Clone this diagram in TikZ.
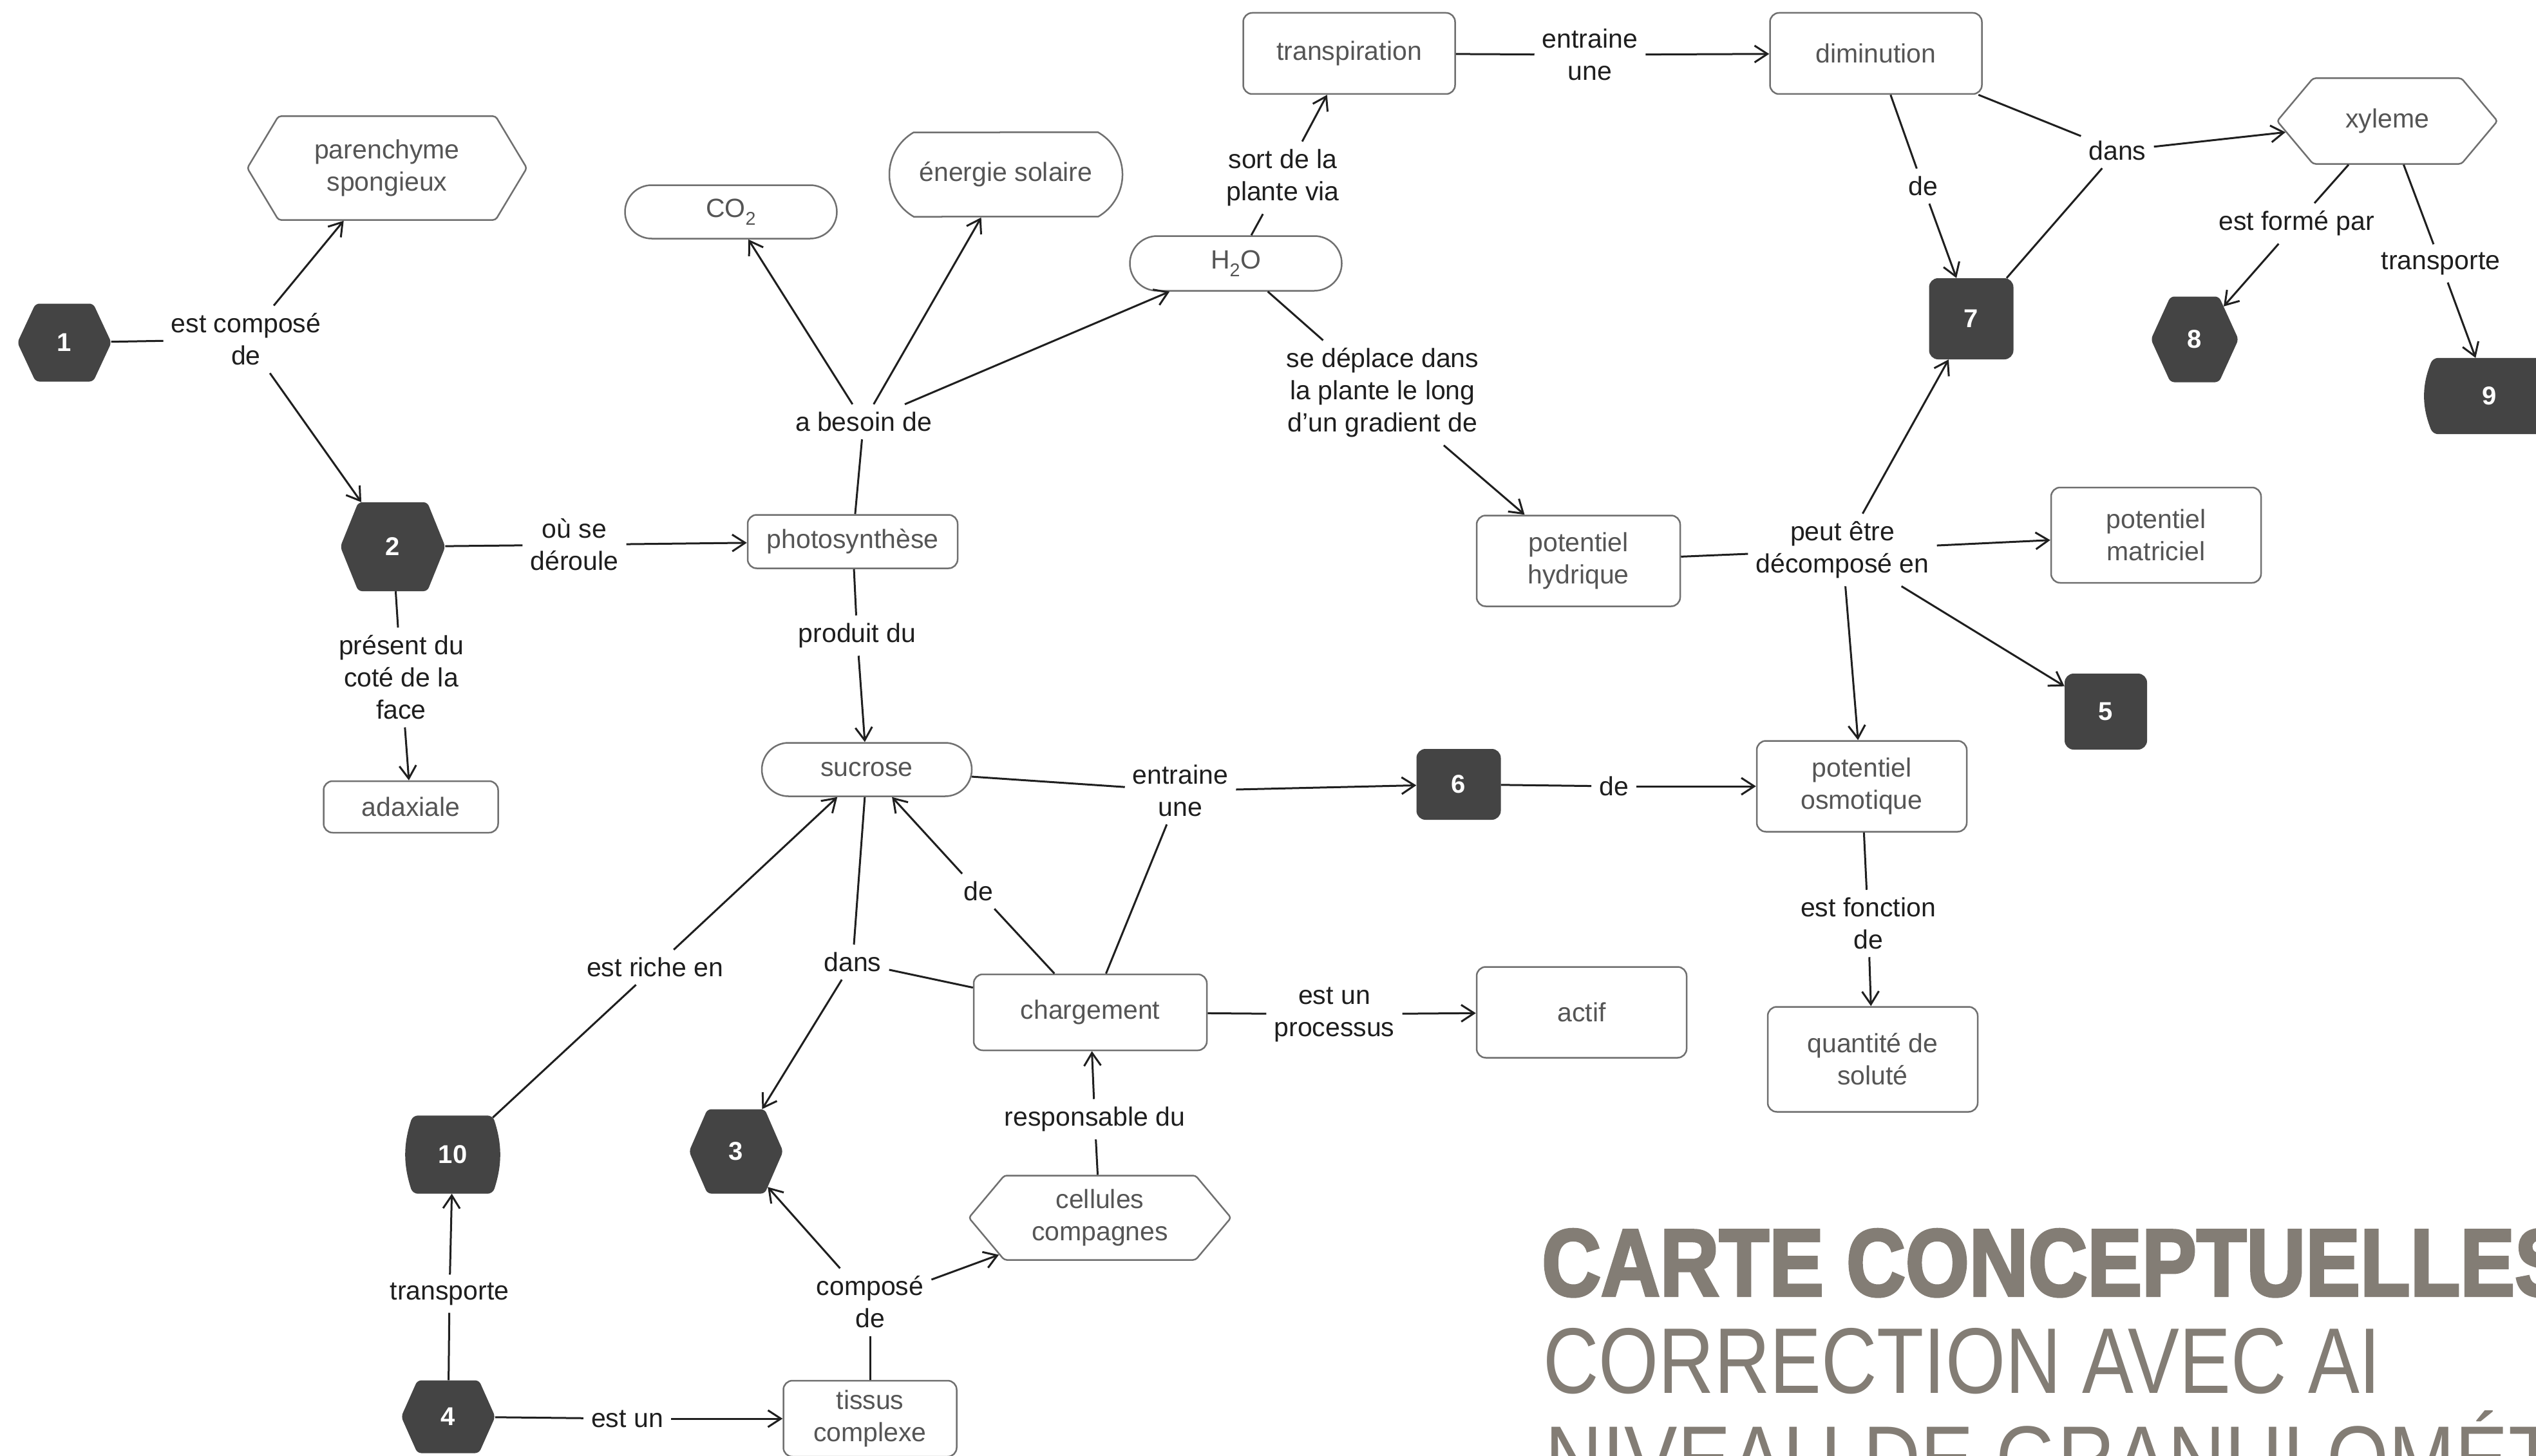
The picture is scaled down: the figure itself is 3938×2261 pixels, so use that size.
\documentclass[tikz,border=0pt]{standalone}
\usepackage{graphicx}
\usepackage{fontspec}
\setmainfont{Liberation Sans}
\newfontfamily\titlefont{Liberation Sans}[BoldFeatures={FakeBold=3}]
\usetikzlibrary{arrows.meta,shapes.misc,shapes.symbols}
\definecolor{dark}{HTML}{444444}
\definecolor{bord}{HTML}{707070}
\definecolor{ntext}{HTML}{555555}
\definecolor{ltext}{HTML}{1E1E1E}
\definecolor{titlec}{RGB}{131,125,117}
\begin{document}
\begin{tikzpicture}[x=1pt,y=-1pt,
  base/.style={font=\fontsize{41pt}{50pt}\selectfont, align=center, inner sep=0pt},
  box/.style={base, draw=bord, line width=2.5pt, rounded corners=14pt, text=ntext},
  pill/.style={base, draw=bord, line width=2.5pt, rounded rectangle, text=ntext},
  hexw/.style={base, draw=bord, line width=2.5pt, signal, signal to=east and west, text=ntext, rounded corners=4pt},
  darkfont/.style={font=\fontsize{40pt}{48pt}\selectfont\bfseries, text=white},
  hexd/.style={base, fill=dark, signal, signal to=east and west, darkfont, rounded corners=6pt},
  sqd/.style={base, fill=dark, rounded corners=14pt, darkfont},
  barrel/.style={base, rectangle, draw=none},
  lab/.style={base, text=ltext, inner sep=12pt},
  ln/.style={line width=3pt, draw=black!88},
  ar/.style={ln, -{Straight Barb[length=20pt,width=26pt]}}
]
\useasboundingbox (0,0) rectangle (3938,2261);
\clip (0,0) rectangle (3938,2261);
\fill[white] (0,0) rectangle (3938,2261);

% concept nodes
\node[hexd, minimum width=146, minimum height=121, signal pointer angle=130] (n1) at (100,532) {1};
\node[hexw, minimum width=434, minimum height=161, signal pointer angle=118] (paren) at (601,261) {parenchyme\\spongieux};
\node[hexd, minimum width=163, minimum height=138, signal pointer angle=136] (n2) at (610,849) {2};
\node[box, minimum width=326, minimum height=83] (photo) at (1324,841) {photosynthèse};
\node[box, minimum width=271, minimum height=80] (adax) at (638,1253) {adaxiale};
\node[pill, minimum width=329, minimum height=83] (co2) at (1135,329) {CO\textsubscript{2}};
\node[pill, rounded rectangle arc length=120, minimum width=362, minimum height=131] (energ) at (1562,271) {énergie solaire};
\node[pill, minimum width=329, minimum height=85] (h2o) at (1919,409) {H\textsubscript{2}O};
\node[box, minimum width=329, minimum height=126] (transp) at (2095,83) {transpiration};
\node[box, minimum width=329, minimum height=126] (dimin) at (2913,83) {diminution};
\node[hexw, minimum width=342, minimum height=133, signal pointer angle=100] (xyl) at (3707,188) {xyleme};
\node[sqd, minimum width=131, minimum height=126] (n7) at (3061,495) {7};
\node[hexd, minimum width=136, minimum height=133, signal pointer angle=131] (n8) at (3408,527) {8};
% node 9: barrel shape, left side curved
\node[barrel, minimum width=176, minimum height=118] (n9) at (3866,615) {};
\fill[dark, rounded corners=8pt] (n9.north west) to[bend right=22] (n9.south west) -- (n9.south east) -- (n9.north east) -- cycle;
\node[base, darkfont] (n9t) at (n9.center) {9};
\node[box, minimum width=316, minimum height=141] (phyd) at (2451,871) {potentiel\\hydrique};
\node[box, minimum width=326, minimum height=148] (pmat) at (3348,831) {potentiel\\matriciel};
\node[sqd, minimum width=128, minimum height=118] (n5) at (3270,1105) {5};
\node[pill, minimum width=326, minimum height=83] (sucr) at (1346,1195) {sucrose};
\node[sqd, minimum width=131, minimum height=110] (n6) at (2265,1218) {6};
\node[box, minimum width=326, minimum height=141] (posm) at (2891,1221) {potentiel\\osmotique};
\node[box, minimum width=362, minimum height=118] (charg) at (1693,1572) {chargement};
\node[box, minimum width=326, minimum height=141] (actif) at (2456,1572) {actif};
\node[box, minimum width=326, minimum height=163] (quant) at (2908,1645) {quantité de\\soluté};
% node 10: barrel shape
\node[barrel, minimum width=124, minimum height=121] (n10) at (703,1793) {};
\fill[dark, rounded corners=8pt] (n10.north west) to[bend right=18] (n10.south west) -- (n10.south east) to[bend right=18] (n10.north east) -- cycle;
\node[base, darkfont] (n10t) at (n10.center) {10};
\node[hexd, minimum width=146, minimum height=131, signal pointer angle=133] (n3) at (1143,1788) {3};
\node[hexw, minimum width=407, minimum height=131, signal pointer angle=100] (cell) at (1708,1891) {cellules\\compagnes};
\node[hexd, minimum width=146, minimum height=113, signal pointer angle=132] (n4) at (696,2200) {4};
\node[box, minimum width=269, minimum height=118] (tissu) at (1351,2203) {tissus\\complexe};

% link labels
\node[lab] (l1) at (382,527) {est composé\\de};
\node[lab] (l2) at (892,846) {où se\\déroule};
\node[lab] (l3) at (623,1052) {présent du\\coté de la\\face};
\node[lab] (l4) at (1341,655) {a besoin de};
\node[lab] (l5) at (1331,987) {produit du};
\node[lab] (l6) at (1992,276) {sort de la\\plante via};
\node[lab] (l7) at (2469,85) {entraine\\une};
\node[lab] (l8) at (2147,610) {se déplace dans\\la plante le long\\d’un gradient de};
\node[lab] (l9) at (3288,234) {dans};
\node[lab] (l10) at (2986,289) {de};
\node[lab] (l11) at (3566,347) {est formé par};
\node[lab] (l12) at (3790,409) {transporte};
\node[lab] (l13) at (2861,854) {peut être\\décomposé en};
\node[lab] (l14) at (1833,1228) {entraine\\une};
\node[lab] (l15) at (2506,1221) {de};
\node[lab] (l16) at (1519,1384) {de};
\node[lab] (l17) at (1324,1494) {dans};
\node[lab] (l18) at (1017,1502) {est riche en};
\node[lab] (l19) at (2072,1575) {est un\\processus};
\node[lab] (l20) at (2901,1434) {est fonction\\de};
\node[lab] (l21) at (1700,1738) {responsable du};
\node[lab] (l22) at (1351,2022) {composé\\de};
\node[lab] (l23) at (698,2009) {transporte};
\node[lab] (l24) at (974,2203) {est un};

% connectors
\draw[ln] (n1) -- (l1); \draw[ar] (l1) -- (paren); \draw[ar] (l1) -- (n2);
\draw[ln] (n2) -- (l2); \draw[ar] (l2) -- (photo);
\draw[ln] (n2) -- (l3); \draw[ar] (l3) -- (adax);
\draw[ln] (photo) -- (l4); \draw[ar] (l4) -- (co2); \draw[ar] (l4) -- (energ); \draw[ar] (l4) -- (h2o);
\draw[ln] (photo) -- (l5); \draw[ar] (l5) -- (sucr);
\draw[ln] (h2o) -- (l6); \draw[ar] (l6) -- (transp);
\draw[ln] (transp) -- (l7); \draw[ar] (l7) -- (dimin);
\draw[ln] (h2o) -- (l8); \draw[ar] (l8) -- (phyd);
\draw[ln] (dimin) -- (l9); \draw[ln] (n7) -- (l9); \draw[ar] (l9) -- (xyl);
\draw[ln] (dimin) -- (l10); \draw[ar] (l10) -- (n7);
\draw[ln] (xyl) -- (l11); \draw[ar] (l11) -- (n8);
\draw[ln] (xyl) -- (l12); \draw[ar] (l12) -- (n9);
\draw[ln] (phyd) -- (l13); \draw[ar] (l13) -- (pmat); \draw[ar] (l13) -- (n5); \draw[ar] (l13) -- (posm); \draw[ar] (l13) -- (n7);
\draw[ln] (sucr) -- (l14); \draw[ln] (charg) -- (l14); \draw[ar] (l14) -- (n6);
\draw[ln] (n6) -- (l15); \draw[ar] (l15) -- (posm);
\draw[ln] (charg) -- (l16); \draw[ar] (l16) -- (sucr);
\draw[ln] (sucr) -- (l17); \draw[ln] (charg) -- (l17); \draw[ar] (l17) -- (n3);
\draw[ln] (n10) -- (l18); \draw[ar] (l18) -- (sucr);
\draw[ln] (charg) -- (l19); \draw[ar] (l19) -- (actif);
\draw[ln] (posm) -- (l20); \draw[ar] (l20) -- (quant);
\draw[ln] (cell) -- (l21); \draw[ar] (l21) -- (charg);
\draw[ln] (tissu) -- (l22); \draw[ar] (l22) -- (n3); \draw[ar] (l22) -- (cell);
\draw[ln] (n4) -- (l23); \draw[ar] (l23) -- (n10);
\draw[ln] (n4) -- (l24); \draw[ar] (l24) -- (tissu);

% title
\node[anchor=base west, inner sep=0pt, text=titlec] (t1) at (2394,2012) {\resizebox{1595pt}{103pt}{\titlefont\bfseries CARTE CONCEPTUELLES}};
\node[anchor=base west, inner sep=0pt, text=titlec] (t2) at (2396,2163) {\resizebox{1300pt}{101pt}{CORRECTION AVEC AI}};
\node[anchor=base west, inner sep=0pt, text=titlec] (t3) at (2399,2314) {\resizebox{1570pt}{124pt}{NIVEAU DE GRANULOMÉT}};
\end{tikzpicture}
\end{document}
